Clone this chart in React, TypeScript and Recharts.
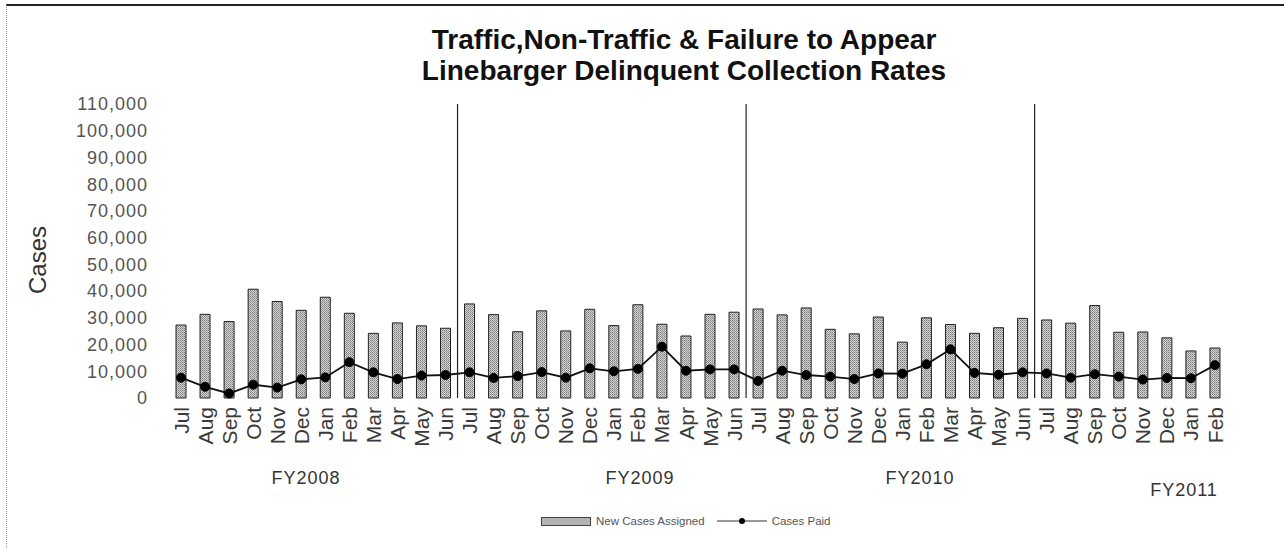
import React from 'react';
import { ComposedChart, Bar, Line, XAxis, YAxis, ReferenceLine } from 'recharts';

const months = ['Jul','Aug','Sep','Oct','Nov','Dec','Jan','Feb','Mar','Apr','May','Jun','Jul','Aug','Sep','Oct','Nov','Dec','Jan','Feb','Mar','Apr','May','Jun','Jul','Aug','Sep','Oct','Nov','Dec','Jan','Feb','Mar','Apr','May','Jun','Jul','Aug','Sep','Oct','Nov','Dec','Jan','Feb'];
const newCasesAssigned = [27300,31300,28600,40700,36100,32800,37700,31700,24200,28100,27000,26100,35200,31200,24800,32600,25100,33200,27100,34900,27600,23200,31300,32100,33300,31100,33700,25700,24000,30300,20900,30000,27500,24200,26300,29800,29200,28000,34600,24600,24700,22500,17600,18700];
const casesPaid = [7600,4200,1700,5000,3900,7000,7700,13400,9600,7100,8400,8600,9600,7500,8200,9700,7600,11100,10000,10900,19200,10200,10700,10700,6400,10200,8600,8000,7100,9200,9100,12600,18200,9400,8700,9600,9200,7600,8900,8000,6900,7500,7400,12300];
const yTicks = [0,10000,20000,30000,40000,50000,60000,70000,80000,90000,100000,110000];
const fiscalYears = ['FY2008','FY2009','FY2010','FY2011'];
const fyBoundaries = [12, 24, 36];

const data = months.map((m, i) => ({ idx: i, month: m, assigned: newCasesAssigned[i], paid: casesPaid[i] }));

const MonthTick = (props: any) => {
  const { x, y, payload } = props;
  return (
    <text x={x} y={y} transform={`rotate(-90, ${x}, ${y})`} textAnchor="end" dy="0.36em"
      fill="#3a3a3a" fontSize={21} fontFamily="Liberation Sans, Arial, sans-serif">
      {months[payload.value]}
    </text>
  );
};

const fmt = (v: number) => v.toLocaleString('en-US');

export default function App() {
  const font = 'Liberation Sans, Arial, sans-serif';
  const fyStyle: React.CSSProperties = { position: 'absolute', transform: 'translate(-50%,-50%)', fontSize: 18, letterSpacing: 1, color: '#333', whiteSpace: 'nowrap' };
  return (
    <div style={{ position: 'absolute', left: 0, top: 0, width: 1284, height: 549, background: '#fff', fontFamily: font }}>
      <div style={{ position: 'absolute', left: 6, top: 4, width: 1278, height: 543, borderTop: '2px solid #222', borderLeft: '1px dotted #999', borderBottom: '1px dotted #999' }} />
      <div style={{ position: 'absolute', left: 0, width: 1368, top: 24, textAlign: 'center', fontWeight: 'bold', fontSize: 28, lineHeight: '31px', color: '#111' }}>
        Traffic,Non-Traffic &amp; Failure to Appear<br />Linebarger Delinquent Collection Rates
      </div>
      <div style={{ position: 'absolute', left: 38, top: 260, transform: 'translate(-50%, -50%) rotate(-90deg)', fontSize: 24, color: '#333', whiteSpace: 'nowrap' }}>Cases</div>
      <ComposedChart width={1284} height={549} data={data} margin={{ top: 104, right: 57, bottom: 0, left: 0 }}>
        <defs>
          <pattern id="stipple" width="2" height="2" patternUnits="userSpaceOnUse">
            <rect width="2" height="2" fill="#d4d4d4" />
            <rect width="1" height="1" fill="#7a7a7a" />
            <rect x="1" y="1" width="1" height="1" fill="#9a9a9a" />
          </pattern>
        </defs>
        <XAxis dataKey="idx" type="category" interval={0} tick={<MonthTick />} tickLine={false} axisLine={false} height={151} tickMargin={3} />
        <YAxis domain={[0, 110000]} ticks={yTicks} tickFormatter={fmt} interval={0} width={169} tickLine={false} axisLine={false} tickMargin={15}
          tick={{ fill: '#555', fontSize: 18, fontFamily: font, letterSpacing: 1 }} />
        {fyBoundaries.map((b) => (
          <ReferenceLine key={b} x={b} position="start" stroke="#222" strokeWidth={1.2} />
        ))}
        <Bar dataKey="assigned" barSize={10} fill="url(#stipple)" stroke="#222" strokeWidth={1} isAnimationActive={false} />
        <Line dataKey="paid" type="linear" stroke="#111" strokeWidth={1.8}
          dot={{ r: 4.5, fill: '#000', stroke: '#000', strokeWidth: 1 }} activeDot={false} isAnimationActive={false} />
      </ComposedChart>
      <div style={{ ...fyStyle, left: 306, top: 478 }}>{fiscalYears[0]}</div>
      <div style={{ ...fyStyle, left: 640, top: 478 }}>{fiscalYears[1]}</div>
      <div style={{ ...fyStyle, left: 920, top: 478 }}>{fiscalYears[2]}</div>
      <div style={{ ...fyStyle, left: 1184, top: 490 }}>{fiscalYears[3]}</div>
      <div style={{ position: 'absolute', left: 541, top: 515, display: 'flex', alignItems: 'center', fontSize: 11.5, color: '#555', whiteSpace: 'nowrap' }}>
        <div style={{ width: 48, height: 7, background: '#b3b3b3', border: '1px solid #444', marginRight: 5 }} />
        <span>New Cases Assigned</span>
        <svg width={50} height={12} style={{ marginLeft: 12, marginRight: 5 }}>
          <line x1={0} y1={6} x2={50} y2={6} stroke="#333" strokeWidth={1} />
          <circle cx={25} cy={6} r={3} fill="#000" />
        </svg>
        <span>Cases Paid</span>
      </div>
    </div>
  );
}
